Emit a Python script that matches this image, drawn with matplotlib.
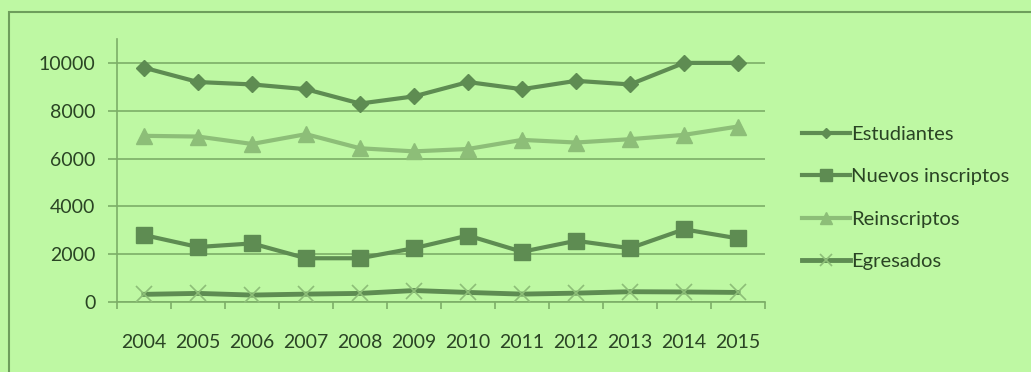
import matplotlib
matplotlib.use("Agg")
import matplotlib.pyplot as plt
from matplotlib.patches import Rectangle

years = ["2004", "2005", "2006", "2007", "2008", "2009", "2010", "2011", "2012", "2013", "2014", "2015"]
estudiantes = [9800, 9200, 9100, 8900, 8300, 8600, 9200, 8900, 9250, 9100, 10000, 10000]
nuevos = [2800, 2300, 2450, 1830, 1830, 2250, 2780, 2100, 2560, 2250, 3040, 2660]
reinscriptos = [6950, 6920, 6610, 7020, 6430, 6300, 6400, 6780, 6670, 6810, 6990, 7340]
egresados = [320, 360, 290, 330, 360, 480, 400, 330, 370, 430, 420, 400]
series_names = ["Estudiantes", "Nuevos inscriptos", "Reinscriptos", "Egresados"]

BG = "#BEF8A3"
DARK = "#5E8C52"
LIGHT = "#8DBE78"
GRID = "#7DAE68"
TEXT = "#2A4424"

plt.rcParams['font.family'] = ['Lato', 'DejaVu Sans']

fig = plt.figure(figsize=(10.31, 3.72), dpi=100)
fig.patch.set_facecolor(BG)
fig.patches.append(Rectangle((9/1031, -0.2), 1.2, 1 - 12/372 + 0.2, transform=fig.transFigure,
                             fill=False, edgecolor="#6E9E5C", linewidth=1.5))

ax = fig.add_axes([117/1031, 1 - 302/372, (765 - 117)/1031, (302 - 39)/372])
ax.set_facecolor(BG)
x = list(range(len(years)))

ax.plot(x, estudiantes, color=DARK, lw=3, marker="D", ms=8, mfc=DARK, mec=DARK, label=series_names[0], zorder=4)
ax.plot(x, nuevos, color=DARK, lw=3, marker="s", ms=12, mfc=DARK, mec=DARK, label=series_names[1], zorder=4)
ax.plot(x, reinscriptos, color=LIGHT, lw=3, marker="^", ms=12, mfc=LIGHT, mec=LIGHT, label=series_names[2], zorder=4)
ax.plot(x, egresados, color=DARK, lw=3.5, marker="x", ms=12, mew=1.2, mec=LIGHT, label=series_names[3], zorder=4)

ax.set_xlim(-0.5, len(years) - 0.5)
ax.set_ylim(0, 11000)
ax.set_yticks([0, 2000, 4000, 6000, 8000, 10000])
ax.set_yticklabels(["0", "2000", "4000", "6000", "8000", "10000"])
ax.yaxis.grid(True, color=GRID, lw=1.2)
ax.set_axisbelow(True)

ax.set_xticks(x)
ax.set_xticklabels(years)
ax.set_xticks([i - 0.5 for i in range(len(years) + 1)], minor=True)
ax.tick_params(axis="x", which="major", length=0, pad=23, labelsize=14, colors=TEXT)
ax.tick_params(axis="x", which="minor", length=5, color=GRID, width=1.2)
ax.tick_params(axis="y", length=6.5, color=GRID, width=1.2, labelsize=14, colors=TEXT, pad=9)

for s in ["top", "right"]:
    ax.spines[s].set_visible(False)
for s in ["left", "bottom"]:
    ax.spines[s].set_color(GRID)
    ax.spines[s].set_linewidth(1.2)

leg = fig.legend(loc="upper left", bbox_to_anchor=(784/1031, 1 - 108/372), frameon=False,
                 fontsize=14.5, handlelength=2.4, handletextpad=0.05, labelspacing=1.25,
                 markerscale=0.7, labelcolor=TEXT)

fig.savefig("out.png", dpi=100, facecolor=BG)
